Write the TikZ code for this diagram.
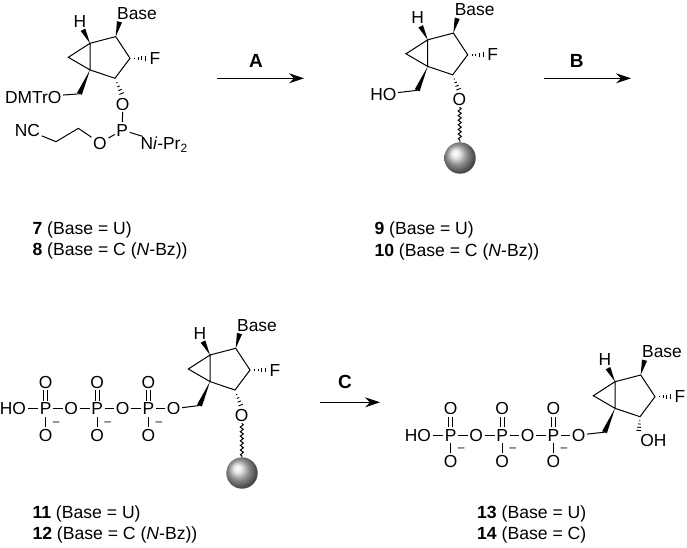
\documentclass[tikz,border=0pt]{standalone}
\usepackage{fontspec}
\setmainfont{Liberation Sans}
\usetikzlibrary{arrows.meta,calc,decorations.pathmorphing}
\newcommand{\wedgebond}[2]{\fill (#1) -- ($(#2)!2.6pt!90:(#1)$) -- ($(#2)!2.6pt!-90:(#1)$) -- cycle;}
\newcommand{\hashbond}[2]{\foreach \t in {0.25,0.45,0.65,0.85,1}
  {\draw[line width=0.9pt] ($(#1)!\t!(#2)!\t*2.8pt!90:(#2)$) -- ($(#1)!\t!(#2)!\t*2.8pt!-90:(#2)$);}}
\newcommand{\subtwo}{\raisebox{-3.5pt}{\fontsize{12}{12}\selectfont 2}}
\pgfdeclareradialshading{beadshade}{\pgfpoint{-8bp}{8bp}}{color(0bp)=(white); color(6bp)=(white!92!black); color(16bp)=(black!45); color(26bp)=(black!70); color(36bp)=(black!85); color(50bp)=(black!85)}
\tikzset{
  atom/.style={inner sep=1.2pt,text height=12.2pt,text depth=0pt,font=\fontsize{17.4}{20}\selectfont},
  caption/.style={anchor=west,inner sep=0pt,font=\fontsize{17.6}{20}\selectfont},
  steplabel/.style={inner sep=0pt,font=\fontsize{19}{20}\selectfont\bfseries},
  bead/.style={circle,minimum size=31.4pt,inner sep=0pt,shading=beadshade},
  wavy/.style={decorate,decoration={snake,amplitude=1.5pt,segment length=4.6pt}},
  reaction/.style={-{Stealth[length=15pt,width=10pt,inset=5pt]},line width=0.9pt},
  pics/sugar/.style={code={
    \coordinate (-top) at (0,0);
    \coordinate (-bot) at (0,26.6);
    \coordinate (-apex) at (-21.7,14);
    \coordinate (-cb) at (25.7,-6.7);
    \coordinate (-cf) at (40,15);
    \coordinate (-co) at (25,35);
    \coordinate (-ch2) at (-10.5,50.5);
    \coordinate (-hend) at (-7,-13.5);
    \coordinate (-bend) at (29.5,-21.5);
    \node[atom] (-H) at (-10,-22) {H};
    \node[atom] (-Base) at (47,-30) {Base};
    \node[atom] (-F) at (65,15) {F};
    \draw (-top) -- (-cb) -- (-cf) -- (-co) -- (-bot) -- (-apex) -- (-top) -- (-bot);
    \wedgebond{-top}{-hend}
    \wedgebond{-cb}{-bend}
    \wedgebond{-bot}{-ch2}
    \hashbond{-cf}{-F.west}
  }},
  pics/triphos/.style={code={
    \node[atom] (-HO) at (-32.8,0) {HO};
    \node[atom] (-p1) at (0,0) {P};
    \node[atom] (-o1) at (25.5,0) {O};
    \node[atom] (-p2) at (51.4,0) {P};
    \node[atom] (-o2) at (77,0) {O};
    \node[atom] (-p3) at (102.8,0) {P};
    \node[atom] (-o3) at (128,0) {O};
    \draw (-HO) -- (-p1) -- (-o1) -- (-p2) -- (-o2) -- (-p3) -- (-o3);
    \foreach \n/\x in {1/0,2/51.4,3/102.8}{
      \node[atom] (-up\n) at (\x,-26.2) {O};
      \node[atom] (-dn\n) at (\x,26.2) {O};
      \node[inner sep=0pt,font=\fontsize{12}{12}\selectfont] (-mi\n) at (\x+10.5,15) {--};
      \draw (-p\n) -- (-dn\n);
      \draw ([xshift=-2pt]-p\n.north) -- ([xshift=-2pt]-up\n.south);
      \draw ([xshift=2pt]-p\n.north) -- ([xshift=2pt]-up\n.south);
    }
  }}
}
\begin{document}
\begin{tikzpicture}[x=1pt,y=-1pt,line width=1pt]
\useasboundingbox (0,0) rectangle (687,547);

\pic (ma) at (90,43.3) {sugar};
\node[atom] (maO) at (122.7,104) {O};
\node[atom] (maP) at (122.3,130) {P};
\node[atom] (maOb) at (100,143) {O};
\node[atom] (maNC) at (27.5,130) {NC};
\node[atom,anchor=west,inner sep=0pt] (maN) at (140,143) {N\textit{i}-Pr\subtwo};
\node[atom,anchor=east,inner sep=1pt] (maDMT) at (63,97.3) {DMTrO};
\coordinate (mac1) at (78.3,128.3);
\coordinate (mac2) at (56,141.7);
\hashbond{ma-co}{maO.north}
\draw (maDMT) -- (ma-ch2);
\draw (maO) -- (maP);
\draw (maP) -- (maOb);
\draw (maP) -- (maN);
\draw (maOb) -- (mac1) -- (mac2) -- (maNC);

\pic (mb) at (427.7,39.8) {sugar};
\node[atom] (mbO) at (459.5,99.5) {O};
\node[atom,anchor=east,inner sep=1pt] (mbHO) at (398,94.3) {HO};
\node[bead] (mbball) at (460,158) {};
\hashbond{mb-co}{mbO.north}
\draw (mbHO) -- (mb-ch2);
\draw[wavy] (mbO) -- (mbball);

\pic (mc) at (210,355) {sugar};
\pic (mcp) at (45.7,408.7) {triphos};
\node[atom] (mcO) at (241.7,415.5) {O};
\node[bead] (mcball) at (242,473) {};
\hashbond{mc-co}{mcO.north}
\draw (mcp-o3) -- (mc-ch2);
\draw[wavy] (mcO) -- (mcball);

\pic (md) at (615,381.7) {sugar};
\pic (mdp) at (450.7,435) {triphos};
\node[atom] (mdOH) at (653.3,440.7) {OH};
\hashbond{md-co}{mdOH.north west}
\draw (mdp-o3) -- (md-ch2);

\coordinate (aa) at (217,78.3);
\coordinate (ab) at (304,78.3);
\coordinate (ba) at (544,78.3);
\coordinate (bb) at (631,78.3);
\coordinate (ca) at (320,402.3);
\coordinate (cb) at (380,402.3);
\draw[reaction] (aa) -- (ab);
\draw[reaction] (ba) -- (bb);
\draw[reaction] (ca) -- (cb);
\node[steplabel] (la) at (256,60.7) {A};
\node[steplabel] (lb) at (576.7,60.7) {B};
\node[steplabel] (lc) at (345,381.7) {C};

\node[caption] (c7) at (32,230) {\textbf{7} (Base = U)};
\node[caption] (c8) at (32,251) {\textbf{8} (Base = C (\textit{N}-Bz))};
\node[caption] (c9) at (374,230) {\textbf{9} (Base = U)};
\node[caption] (c10) at (374,251.5) {\textbf{10} (Base = C (\textit{N}-Bz))};
\node[caption] (c11) at (32,514) {\textbf{11} (Base = U)};
\node[caption] (c12) at (32,535) {\textbf{12} (Base = C (\textit{N}-Bz))};
\node[caption] (c13) at (476.7,514) {\textbf{13} (Base = U)};
\node[caption] (c14) at (476.7,535) {\textbf{14} (Base = C)};
\end{tikzpicture}
\end{document}
